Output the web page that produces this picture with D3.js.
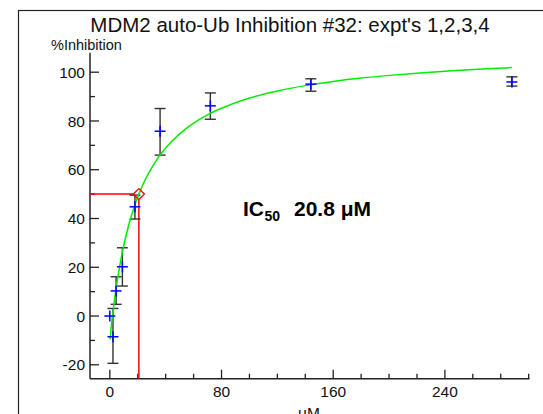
<!DOCTYPE html>
<html>
<head>
<meta charset="utf-8">
<script src="https://cdn.jsdelivr.net/npm/d3@7"></script>
<style>
  html, body { margin: 0; padding: 0; background: #fff; }
  svg { display: block; font-family: "Liberation Sans", Arial, Helvetica, sans-serif; }
</style>
</head>
<body>
<svg id="chart" width="543" height="414"></svg>
<script>
// ---- data ----
const title = "MDM2 auto-Ub Inhibition #32: expt's 1,2,3,4";
const yAxisLabel = "%Inhibition";
const xAxisLabel = "\u03bcM";
const concentration = [0, 2.25, 4.5, 9, 18, 36, 72, 144, 288];
const inhibition = [0, -8.5, 10.3, 20.2, 44.8, 75.8, 86.2, 95.1, 96.0];
const errorTop = [null, 3.1, 16.1, 28.0, 49.6, 85.1, 91.5, 97.3, 98.1];
const errorBottom = [null, -19.4, 4.8, 12.3, 39.8, 66.0, 80.7, 92.2, 94.3];
const fitX = [0.3, 1, 2, 3, 5, 7.5, 10, 12.5, 15, 17.5, 20.8, 25, 30, 35, 40, 50, 60, 70, 80, 100, 120, 140, 160, 180, 200, 220, 245, 270, 288];
const fitY = [-9.6, -4.5, 0.5, 5.1, 13.3, 21.8, 29.0, 35.0, 40.3, 44.8, 50.0, 55.5, 60.8, 65.3, 68.9, 74.7, 79.1, 82.5, 85.2, 89.4, 92.3, 94.5, 96.2, 97.6, 98.7, 99.6, 100.6, 101.4, 101.9];
const ic50 = 20.8;
const ic50Response = 50;
const xTicks = [0, 80, 160, 240];
const xMinorTicks = [-0, 20, 40, 60, 100, 120, 140, 180, 200, 220, 260, 280, 300];
const yTicks = [-20, 0, 20, 40, 60, 80, 100];
const yMinorTicks = [-10, 10, 30, 50, 70, 90];

// ---- layout ----
const svg = d3.select("#chart");
const x = d3.scaleLinear().domain([-14.2, 300.6]).range([90, 529.5]);
const y = d3.scaleLinear().domain([-25.7, 108]).range([378.7, 52.7]);

// outer frame
svg.append("rect").attr("x", 18.5).attr("y", 10.5).attr("width", 600).attr("height", 500)
  .attr("fill", "none").attr("stroke", "#222").attr("stroke-width", 1.2);

// title
svg.append("text").attr("x", 290).attr("y", 32).attr("text-anchor", "middle")
  .attr("font-size", 20.5).attr("fill", "#111").text(title);

// y label
svg.append("text").attr("x", 51).attr("y", 50).attr("font-size", 14.5).attr("fill", "#111").text(yAxisLabel);

// axes
const axisColor = "#222";
const gy = svg.append("g").attr("transform", `translate(${x.range()[0]},0)`);
gy.append("line").attr("x1", 0).attr("x2", 0).attr("y1", y.range()[1]).attr("y2", y.range()[0])
  .attr("stroke", axisColor).attr("stroke-width", 1.5);
gy.selectAll(".major").data(yTicks).join("line")
  .attr("x1", 0).attr("x2", 9).attr("y1", d => y(d)).attr("y2", d => y(d))
  .attr("stroke", axisColor).attr("stroke-width", 1.3);
gy.selectAll(".minor").data(yMinorTicks).join("line")
  .attr("x1", 0).attr("x2", 5).attr("y1", d => y(d)).attr("y2", d => y(d))
  .attr("stroke", axisColor).attr("stroke-width", 1.3);
gy.selectAll("text").data(yTicks).join("text")
  .attr("x", -5).attr("y", d => y(d)).attr("dy", "0.36em").attr("text-anchor", "end")
  .attr("font-size", 15.5).attr("fill", "#111").text(d => d);

const gx = svg.append("g").attr("transform", `translate(0,${y.range()[0]})`);
gx.append("line").attr("x1", x.range()[0]).attr("x2", x.range()[1]).attr("y1", 0).attr("y2", 0)
  .attr("stroke", axisColor).attr("stroke-width", 1.5);
gx.selectAll(".major").data(xTicks).join("line")
  .attr("x1", d => x(d)).attr("x2", d => x(d)).attr("y1", 0).attr("y2", -9)
  .attr("stroke", axisColor).attr("stroke-width", 1.3);
gx.selectAll(".minor").data(xMinorTicks.filter(d => d > 0)).join("line")
  .attr("x1", d => x(d)).attr("x2", d => x(d)).attr("y1", 0).attr("y2", -5)
  .attr("stroke", axisColor).attr("stroke-width", 1.3);
gx.selectAll("text").data(xTicks).join("text")
  .attr("x", d => x(d)).attr("y", 18).attr("text-anchor", "middle")
  .attr("font-size", 15.5).attr("fill", "#111").text(d => d);

// x label
svg.append("text").attr("x", 309).attr("y", 418).attr("text-anchor", "middle")
  .attr("font-size", 15.5).attr("fill", "#111").text(xAxisLabel);

// IC50 guide lines
const cx = x(ic50), cy = y(ic50Response), dsz = 5.5;
svg.append("line").attr("x1", x.range()[0]).attr("x2", cx - dsz).attr("y1", cy).attr("y2", cy)
  .attr("stroke", "#ff0000").attr("stroke-width", 1.5);
svg.append("line").attr("x1", cx).attr("x2", cx).attr("y1", cy + dsz).attr("y2", y.range()[0])
  .attr("stroke", "#ff0000").attr("stroke-width", 1.5);

// error bars
const pts = concentration.map((c, i) => ({c, v: inhibition[i], hi: errorTop[i], lo: errorBottom[i]}));
const eb = svg.append("g").attr("stroke", "#333").attr("stroke-width", 1.4);
pts.filter(d => d.hi !== null).forEach(d => {
  eb.append("line").attr("x1", x(d.c)).attr("x2", x(d.c)).attr("y1", y(d.hi)).attr("y2", y(d.lo));
  eb.append("line").attr("x1", x(d.c) - 5.5).attr("x2", x(d.c) + 5.5).attr("y1", y(d.hi)).attr("y2", y(d.hi));
  eb.append("line").attr("x1", x(d.c) - 5.5).attr("x2", x(d.c) + 5.5).attr("y1", y(d.lo)).attr("y2", y(d.lo));
});

// fitted curve
const fit = fitX.map((v, i) => [v, fitY[i]]);
svg.append("path").datum(fit)
  .attr("d", d3.line().x(d => x(d[0])).y(d => y(d[1])).curve(d3.curveMonotoneX))
  .attr("fill", "none").attr("stroke", "#00ee00").attr("stroke-width", 1.5);

// data crosses
const cr = svg.append("g").attr("stroke", "#0000ff").attr("stroke-width", 1.5);
pts.forEach(d => {
  cr.append("line").attr("x1", x(d.c) - 5.5).attr("x2", x(d.c) + 5.5).attr("y1", y(d.v)).attr("y2", y(d.v));
  cr.append("line").attr("x1", x(d.c)).attr("x2", x(d.c)).attr("y1", y(d.v) - 5.5).attr("y2", y(d.v) + 5.5);
});

// IC50 diamond
svg.append("path")
  .attr("d", `M${cx},${cy - dsz}L${cx + dsz},${cy}L${cx},${cy + dsz}L${cx - dsz},${cy}Z`)
  .attr("fill", "none").attr("stroke", "#ff0000").attr("stroke-width", 1.4);

// IC50 annotation
const ann = svg.append("g").attr("font-weight", "bold").attr("fill", "#000");
ann.append("text").attr("x", 243).attr("y", 216).attr("font-size", 21).text("IC");
ann.append("text").attr("x", 264.5).attr("y", 221).attr("font-size", 14).text("50");
ann.append("text").attr("x", 294).attr("y", 216).attr("font-size", 21).text("20.8 \u03bcM");
</script>
</body>
</html>
